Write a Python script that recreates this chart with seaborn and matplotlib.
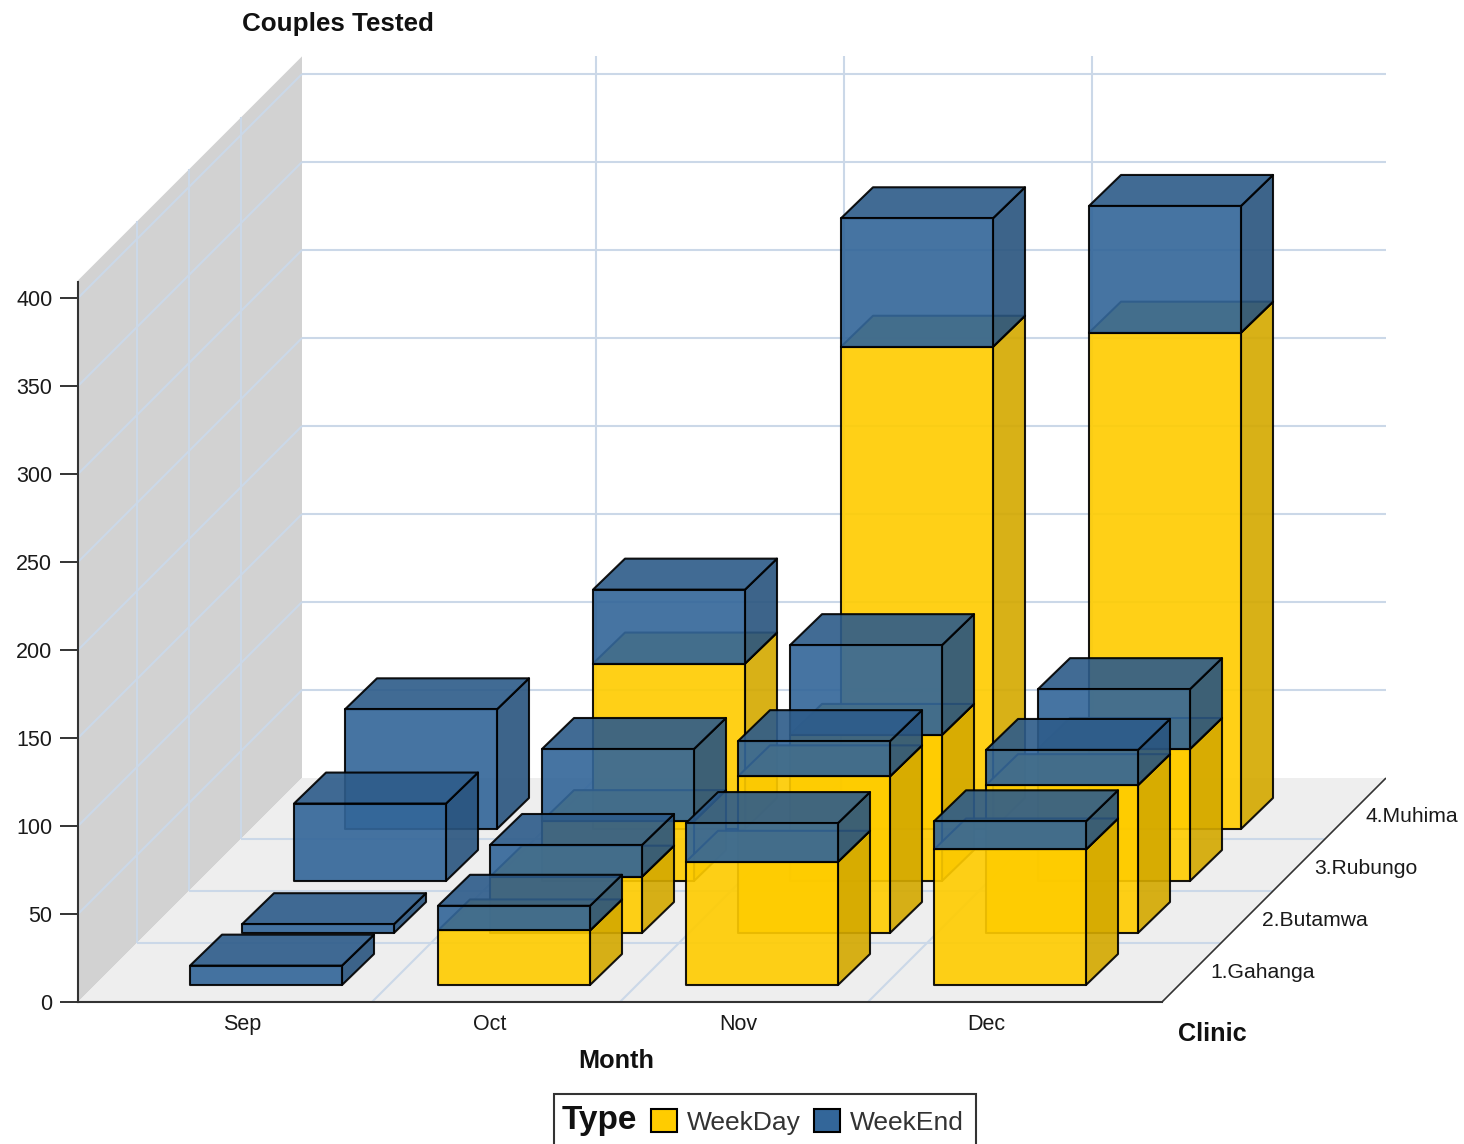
import numpy as np
import matplotlib
matplotlib.use('Agg')
import matplotlib.pyplot as plt
from matplotlib.patches import Patch, Rectangle
import seaborn as sns

# values
months = ['Sep', 'Oct', 'Nov', 'Dec']
clinics = ['1.Gahanga', '2.Butamwa', '3.Rubungo', '4.Muhima']
weekday_gahanga = [0, 31, 70, 77]
weekday_butamwa = [0, 32, 89, 84]
weekday_rubungo = [0, 34, 83, 75]
weekday_muhima = [0, 94, 274, 282]
weekend_gahanga = [11, 14, 22, 16]
weekend_butamwa = [5, 18, 20, 20]
weekend_rubungo = [44, 41, 51, 34]
weekend_muhima = [68, 42, 73, 72]
y_ticks = [0, 50, 100, 150, 200, 250, 300, 350, 400]

weekday = [weekday_gahanga, weekday_butamwa, weekday_rubungo, weekday_muhima]
weekend = [weekend_gahanga, weekend_butamwa, weekend_rubungo, weekend_muhima]

sns.set_theme(style='white')
plt.rcParams['font.family'] = ['Liberation Sans', 'DejaVu Sans']
yellow, blue = sns.color_palette(['#FFCC00', '#336699'])
grid = '#CBD8E8'
alpha = 0.91

# pixel scale of the data axes; one clinic step goes up and to the right
month_px, value_px, clinic_px = 248, 1.76, 52
x_min, x_max = (78 - 242) / month_px, (1386 - 242) / month_px
y_max = (1002 - 56) / value_px
wall_top = 410
depth_max = 224 / clinic_px
bar_w, bar_d = 152 / month_px, 32 / clinic_px
x_right = (1162 - 242) / month_px
# the source chart rounds its rows a little differently
row_shift = [0, 0, 0, -1 / month_px]
back = -1 / value_px


def proj(m, c, v):
    # oblique projection of month, clinic depth, value on the 2d axes
    return m + c * clinic_px / month_px, v + c * clinic_px / value_px


def face(ax, pts, **kw):
    xy = np.array([proj(*p) for p in pts])
    ax.fill(xy[:, 0], xy[:, 1], **kw)


def line3(ax, a, b, **kw):
    xy = np.array([proj(*a), proj(*b)])
    ax.plot(xy[:, 0], xy[:, 1], solid_capstyle='butt', **kw)


def shade(color, k):
    return tuple(ch * k for ch in color)


def box(ax, m0, c0, v0, v1, color):
    m1, c1 = m0 + bar_w, c0 + bar_d
    style = dict(edgecolor='black', linewidth=1.5, alpha=alpha, joinstyle='round', zorder=1)
    face(ax, [(m1, c0, v0), (m1, c1, v0 + back), (m1, c1, v1 + back), (m1, c0, v1)],
         facecolor=shade(color, 0.83), **style)
    face(ax, [(m0, c0, v1), (m1, c0, v1), (m1, c1, v1 + back), (m0, c1, v1 + back)],
         facecolor=shade(color, 0.9), **style)
    face(ax, [(m0, c0, v0), (m1, c0, v0), (m1, c0, v1), (m0, c0, v1)],
         facecolor=color, **style)


fig = plt.figure(figsize=(14.64, 11.44), dpi=100)
ax = fig.add_axes([78 / 1464, 142 / 1144, 1308 / 1464, 946 / 1144])
ax.set_xlim(x_min, x_max)
ax.set_ylim(0, y_max)

# walls and floor
face(ax, [(x_min, 0, 0), (x_min, depth_max, 0), (x_min, depth_max, wall_top), (x_min, 0, wall_top)],
     facecolor='#D2D2D2', edgecolor='none', zorder=0.2)
face(ax, [(x_min, 0, 0), (x_right, 0, 0), (x_right, depth_max, 0), (x_min, depth_max, 0)],
     facecolor='#EEEEEE', edgecolor='none', zorder=0.2)

gl = dict(color=grid, linewidth=1.5, zorder=0.5)
for v in y_ticks[1:]:
    line3(ax, (x_min, 0, v), (x_min, depth_max, v), **gl)
    line3(ax, (x_min, depth_max, v), (x_right, depth_max, v), **gl)
for i in range(3):
    c = 1.135 + i
    line3(ax, (x_min, c, 0), (x_min, c, wall_top), **gl)
    line3(ax, (x_min, c, 0), (x_right, c, 0), **gl)
    m = 0.524 + i
    line3(ax, (m, 0, 0), (m, depth_max, 0), **gl)
    line3(ax, (m, depth_max, 0), (m, depth_max, wall_top), **gl)

# bars, back row first
for c in range(len(clinics) - 1, -1, -1):
    c0 = c + 17 / clinic_px
    for m in range(len(months)):
        m0 = m - 69 / month_px + row_shift[c]
        wd, we = weekday[c][m], weekend[c][m]
        if wd > 0:
            box(ax, m0, c0, 0, wd, yellow)
        if we > 0:
            box(ax, m0, c0, wd, wd + we, blue)

# right floor edge
line3(ax, (x_right, 0, 0), (x_right, depth_max, 0), color='#333333', linewidth=1.2)

for c, name in enumerate(clinics):
    x, y = proj(x_right, c + 33 / clinic_px, 0)
    ax.text(x + 15 / month_px, y - 3 / value_px, name, fontsize=15.2, color='#1a1a1a', va='center', ha='left', clip_on=False)

ax.set_yticks(y_ticks)
ax.set_xticks(range(len(months)))
ax.set_xticklabels(months)
ax.tick_params(axis='y', length=13, width=1.4, color='#333333', pad=5.5, labelsize=15.5, left=True, labelcolor='#1a1a1a')
ax.tick_params(axis='x', length=0, pad=8.5, labelsize=15.5, labelcolor='#1a1a1a')
sns.despine(ax=ax)
ax.spines['left'].set_bounds(0, 409)
ax.spines['bottom'].set_bounds(x_min, x_right)
for side in ['left', 'bottom']:
    ax.spines[side].set_linewidth(1.5)
    ax.spines[side].set_color('#333333')

ax.set_title('Couples Tested', loc='left', x=(242 - 78) / 1308, y=1 + 25 / 946, pad=0,
             fontsize=18.7, fontweight='bold', color='#111111')
ax.set_xlabel('Month', x=(616 - 78) / 1308, labelpad=10, fontsize=18.2, fontweight='bold', color='#111111')
ax.text((1178 - 242) / month_px, -18.2, 'Clinic', fontsize=18.2, fontweight='bold', color='#111111',
        va='center', ha='left', clip_on=False)

# legend box runs off the bottom of the picture
fig.add_artist(Rectangle((554 / 1464, -4 / 1144), 422 / 1464, 54 / 1144, transform=fig.transFigure,
                         facecolor='white', edgecolor='#333333', linewidth=1.5))
fig.text(562 / 1464, 1 - 1120 / 1144, 'Type', fontsize=24, fontweight='bold', color='#111111', va='center', ha='left')
handles = [Patch(facecolor=yellow, edgecolor='black', linewidth=1.5, label='WeekDay'),
           Patch(facecolor=blue, edgecolor='black', linewidth=1.5, label='WeekEnd')]
fig.legend(handles=handles, ncol=2, frameon=False, loc='center left', bbox_to_anchor=(651 / 1464, 1 - 1122 / 1144),
           fontsize=19, handlelength=0.985, handleheight=0.985, handletextpad=0.38, columnspacing=0.5,
           borderpad=0, borderaxespad=0, labelcolor='#333333')

plt.savefig('out.png', dpi=100)
